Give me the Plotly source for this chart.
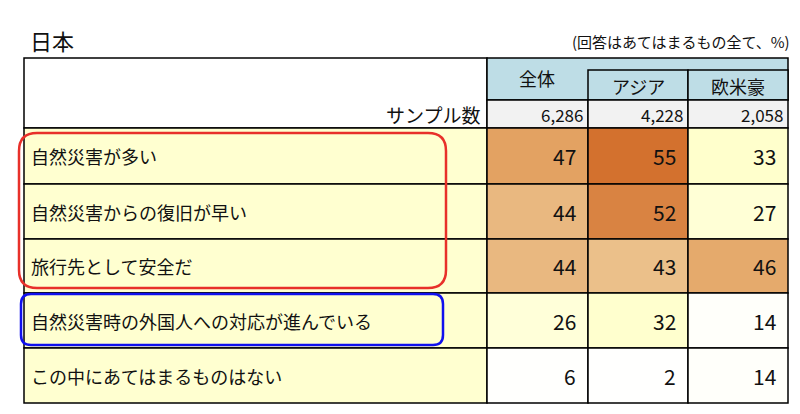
import plotly.graph_objects as go
import numpy as np

title = "日本"
note = "(回答はあてはまるもの全て、%)"
groups = ["全体", "アジア", "欧米豪"]
sample_label = "サンプル数"
samples = ["6,286", "4,228", "2,058"]
items = ["自然災害が多い", "自然災害からの復旧が早い", "旅行先として安全だ",
         "自然災害時の外国人への対応が進んでいる", "この中にあてはまるものはない"]
total = [47, 44, 44, 26, 6]
asia = [55, 52, 43, 32, 2]
west = [33, 27, 46, 14, 14]

anchors_v = [0, 15, 27, 33, 43, 47, 55]
anchors_c = [(255, 255, 255), (255, 255, 250), (255, 255, 214), (255, 255, 204),
             (235, 192, 138), (227, 162, 98), (211, 113, 46)]

def heat(v):
    c = [np.interp(v, anchors_v, [a[i] for a in anchors_c]) for i in range(3)]
    return "rgb(%d,%d,%d)" % tuple(int(round(x)) for x in c)

FONT = "Noto Sans CJK JP"
colx = [16, 479, 580, 680, 780]
rowy = [120, 176, 231, 285, 340, 395]
fig = go.Figure()
shapes, ann = [], []

def rect(x0, y0, x1, y1, fill, lw=1.5):
    shapes.append(dict(type="rect", x0=x0, x1=x1, y0=y0, y1=y1, fillcolor=fill,
                       line=dict(color="#000", width=lw), layer="below"))

rect(16, 50, 479, 120, "white")
rect(479, 50, 780, 92, "#BEDDE6")
rect(580, 62, 680, 92, "#BEDDE6")
rect(680, 62, 780, 92, "#BEDDE6")
for i in range(3):
    rect(colx[i+1], 92, colx[i+2], 120, "#F2F2F2")
ann.append(dict(x=529, y=70, text=groups[0], showarrow=False, font=dict(size=18)))
for i in (1, 2):
    ann.append(dict(x=(colx[i+1]+colx[i+2])/2, y=78, text=groups[i], showarrow=False, font=dict(size=18)))
ann.append(dict(x=474, y=106, text=sample_label, showarrow=False, xanchor="right", font=dict(size=19)))
for i, s in enumerate(samples):
    ann.append(dict(x=colx[i+2]-3, y=106, text=s, showarrow=False, xanchor="right", font=dict(size=17)))

vals = [total, asia, west]
for r, it in enumerate(items):
    y0, y1 = rowy[r], rowy[r+1]
    rect(16, y0, 479, y1, "#FFFFD0")
    ann.append(dict(x=21, y=(y0+y1)/2, text=it, showarrow=False, xanchor="left", font=dict(size=18)))
    for c in range(3):
        v = vals[c][r]
        rect(colx[c+1], y0, colx[c+2], y1, heat(v))
        ann.append(dict(x=colx[c+2]-10, y=(y0+y1)/2, text=str(v), showarrow=False,
                        xanchor="right", font=dict(size=21)))

def rrect(x0, y0, x1, y1, r, color):
    p = (f"M {x0+r},{y0} L {x1-r},{y0} Q {x1},{y0} {x1},{y0+r} L {x1},{y1-r} "
         f"Q {x1},{y1} {x1-r},{y1} L {x0+r},{y1} Q {x0},{y1} {x0},{y1-r} "
         f"L {x0},{y0+r} Q {x0},{y0} {x0+r},{y0} Z")
    shapes.append(dict(type="path", path=p, line=dict(color=color, width=2.5)))

rrect(11, 125, 438, 280, 18, "#E8302A")
rrect(13, 286, 435, 337, 10, "#1010EE")

ann.append(dict(x=20, y=32, text=title, showarrow=False, xanchor="left", font=dict(size=22)))
ann.append(dict(x=784, y=33, text=note, showarrow=False, xanchor="right", font=dict(size=15)))

fig.update_layout(width=800, height=414, margin=dict(l=0, r=0, t=0, b=0),
                  paper_bgcolor="white", plot_bgcolor="white",
                  font=dict(family=FONT, color="#111"),
                  xaxis=dict(range=[0, 800], visible=False, fixedrange=True),
                  yaxis=dict(range=[414, 0], visible=False, fixedrange=True),
                  shapes=shapes, annotations=ann, showlegend=False)
fig.write_html("out.html", config={"displayModeBar": False})
